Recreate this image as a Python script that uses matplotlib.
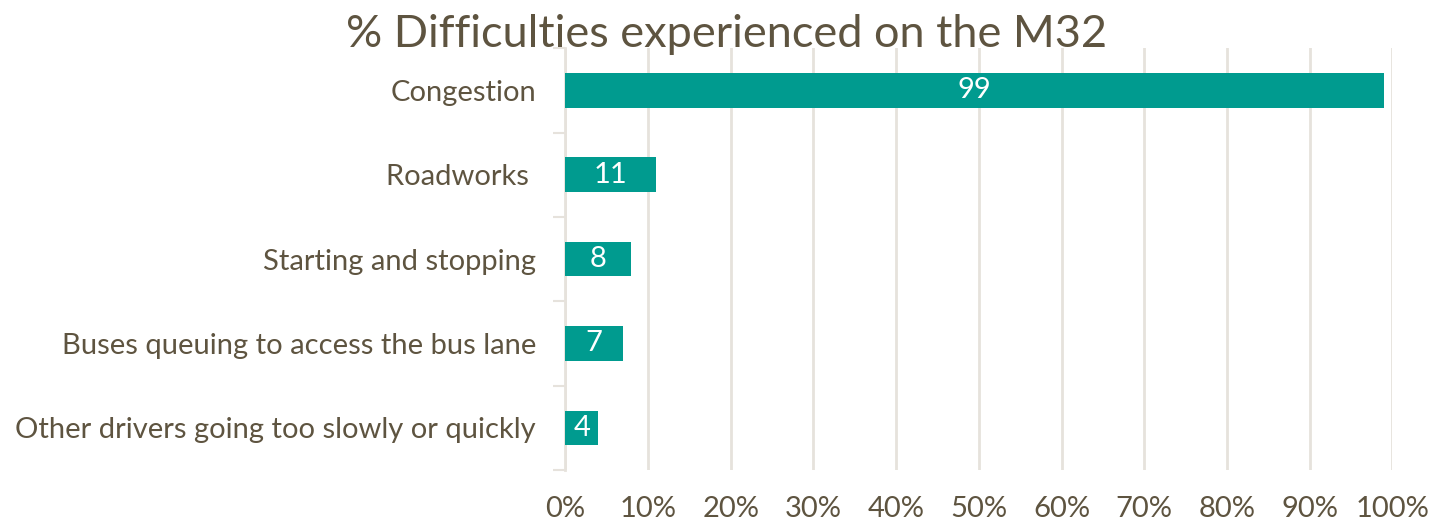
import matplotlib.pyplot as plt
import numpy as np

categories = [
    "Congestion",
    "Roadworks ",
    "Starting and stopping",
    "Buses queuing to access the bus lane",
    "Other drivers going too slowly or quickly",
]
percent = [99, 11, 8, 7, 4]

teal = "#009B8F"
text_col = "#5E5440"
grid_col = "#E6E2DC"

plt.rcParams["font.family"] = ["Lato", "DejaVu Sans"]

fig = plt.figure(figsize=(14.31, 5.24), dpi=100)
ax = fig.add_axes([0.395, 0.103, 0.578, 0.805])

y = np.arange(len(categories))
bars = ax.barh(y, percent, height=0.41, color=teal, zorder=3)
for b, v in zip(bars, percent):
    ax.text(b.get_width() / 2, b.get_y() + b.get_height() / 2, str(v),
            ha="center", va="center", color="white", fontsize=21, zorder=4)

ax.set_xlim(0, 100)
ax.set_ylim(len(categories) - 0.5, -0.5)
ax.set_xticks(np.arange(0, 101, 10))
ax.set_xticklabels([f"{t}%" for t in range(0, 101, 10)])
ax.set_yticks(y)
ax.set_yticklabels(categories)

# category separators drawn as minor ticks on the value axis
ax.set_yticks(np.arange(-0.5, len(categories)), minor=True)
ax.tick_params(axis="y", which="major", length=0, pad=21, labelsize=21, labelcolor=text_col)
ax.tick_params(axis="y", which="minor", length=9, width=1.5, color=grid_col)
ax.tick_params(axis="x", length=0, pad=19, labelsize=21, labelcolor=text_col)

ax.grid(axis="x", color=grid_col, linewidth=2, zorder=0)
for s in ["top", "right", "bottom"]:
    ax.spines[s].set_visible(False)
ax.spines["left"].set_color(grid_col)
ax.spines["left"].set_linewidth(2)

fig.text(0.508, 1 - 47 / 524, "% Difficulties experienced on the M32", ha="center",
         va="baseline", fontsize=32.5, color=text_col)

fig.savefig("out.png", dpi=100)
